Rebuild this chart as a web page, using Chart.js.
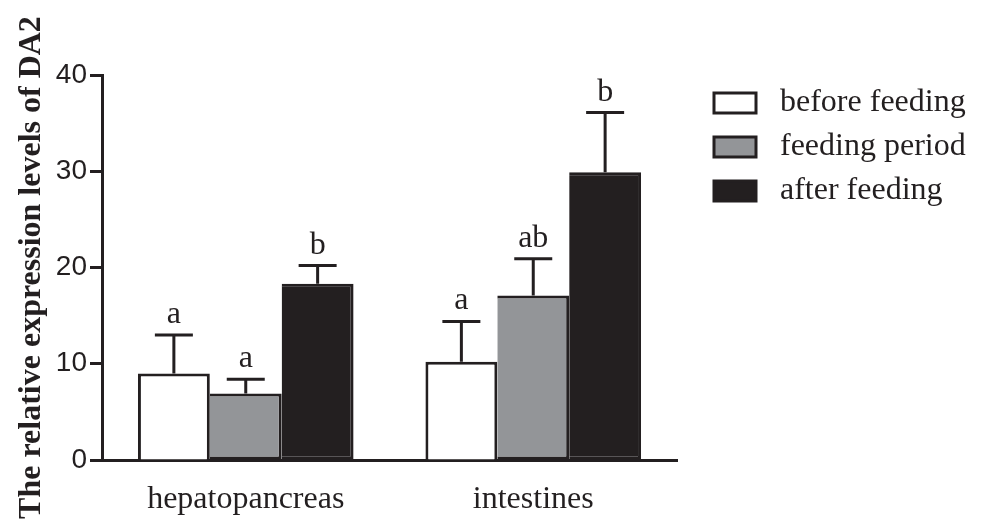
<!DOCTYPE html>
<html lang="en">
<head>
<meta charset="UTF-8">
<title>DA2 expression</title>
<script src="https://cdn.jsdelivr.net/npm/chart.js"></script>
<style>
  html, body { margin: 0; padding: 0; background: #fff; }
  #wrap { width: 984px; height: 527px; }
</style>
</head>
<body>
<div id="wrap"><canvas id="chart" width="984" height="527"></canvas></div>
<script>
// data
const categories = ['hepatopancreas', 'intestines'];
const seriesNames = ['before feeding', 'feeding period', 'after feeding'];
const beforeVals = [9.0, 10.2];
const beforeErr = [4.0, 4.2];
const periodVals = [6.9, 17.1];
const periodErr = [1.5, 3.8];
const afterVals = [18.3, 29.9];
const afterErr = [1.9, 6.2];
const beforeLetters = ['a', 'a'];
const periodLetters = ['a', 'ab'];
const afterLetters = ['b', 'b'];
const yTicks = [0, 10, 20, 30, 40];

const INK = '#231f20';
const GRAY = '#939598';
const SERIF = '"Liberation Serif", "Times New Roman", serif';
const fills = ['#ffffff', GRAY, INK];
const errs = [beforeErr, periodErr, afterErr];
const letters = [beforeLetters, periodLetters, afterLetters];

// error bars + significance letters
const errorBarPlugin = {
  id: 'errorBars',
  afterDatasetsDraw(chart) {
    const ctx = chart.ctx;
    const y = chart.scales.y;
    ctx.save();
    ctx.strokeStyle = INK;
    ctx.lineWidth = 3;
    ctx.fillStyle = INK;
    ctx.font = '32px ' + SERIF;
    ctx.textAlign = 'center';
    ctx.textBaseline = 'alphabetic';
    chart.data.datasets.forEach((ds, i) => {
      chart.getDatasetMeta(i).data.forEach((bar, j) => {
        const v = ds.data[j];
        const top = y.getPixelForValue(v);
        const capY = y.getPixelForValue(v + errs[i][j]);
        ctx.beginPath();
        ctx.moveTo(bar.x, top);
        ctx.lineTo(bar.x, capY);
        ctx.moveTo(bar.x - 19, capY);
        ctx.lineTo(bar.x + 19, capY);
        ctx.stroke();
        ctx.fillText(letters[i][j], bar.x, capY - 12);
      });
    });
    ctx.restore();
  }
};

// legend on the right
const legendPlugin = {
  id: 'sideLegend',
  afterDraw(chart) {
    const ctx = chart.ctx;
    ctx.save();
    ctx.font = '32px ' + SERIF;
    ctx.textBaseline = 'middle';
    seriesNames.forEach((name, i) => {
      const cy = 103 + i * 44;
      ctx.fillStyle = fills[i];
      ctx.fillRect(714, cy - 10, 42, 20);
      ctx.strokeStyle = INK;
      ctx.lineWidth = 3;
      ctx.strokeRect(714, cy - 10, 42, 20);
      ctx.fillStyle = INK;
      ctx.fillText(name, 780, cy);
    });
    ctx.restore();
  }
};

new Chart(document.getElementById('chart').getContext('2d'), {
  type: 'bar',
  data: {
    labels: categories,
    datasets: [
      { label: seriesNames[0], data: beforeVals, backgroundColor: fills[0], borderSkipped: 'bottom' },
      { label: seriesNames[1], data: periodVals, backgroundColor: fills[1], borderSkipped: 'left' },
      { label: seriesNames[2], data: afterVals, backgroundColor: fills[2], borderSkipped: 'left' }
    ].map(d => Object.assign(d, { borderColor: INK, borderWidth: 3, categoryPercentage: 0.75, barPercentage: 1 }))
  },
  options: {
    responsive: false,
    animation: false,
    layout: { padding: { left: 0, top: 75, right: 307, bottom: 0 } },
    plugins: { legend: { display: false }, tooltip: { enabled: false } },
    scales: {
      x: {
        grid: { display: false, drawTicks: false },
        border: { display: true, color: INK, width: 3 },
        ticks: { color: INK, padding: 20, font: { family: SERIF, size: 32 } },
        afterFit: s => { s.height = 67; }
      },
      y: {
        min: 0,
        max: 40,
        afterBuildTicks: s => { s.ticks = yTicks.map(v => ({ value: v })); },
        grid: { drawOnChartArea: false, drawTicks: true, tickLength: 12, tickWidth: 3, color: INK },
        border: { display: true, color: INK, width: 3 },
        ticks: { color: INK, padding: 3, font: { family: '"Liberation Sans", Arial, sans-serif', size: 28 } },
        title: {
          display: true,
          text: 'The relative expression levels of DA2',
          color: INK,
          padding: { top: 13, bottom: 0 },
          font: { family: SERIF, size: 32, weight: 'bold' }
        },
        afterFit: s => { s.width = 102; }
      }
    }
  },
  plugins: [errorBarPlugin, legendPlugin]
});
</script>
</body>
</html>
